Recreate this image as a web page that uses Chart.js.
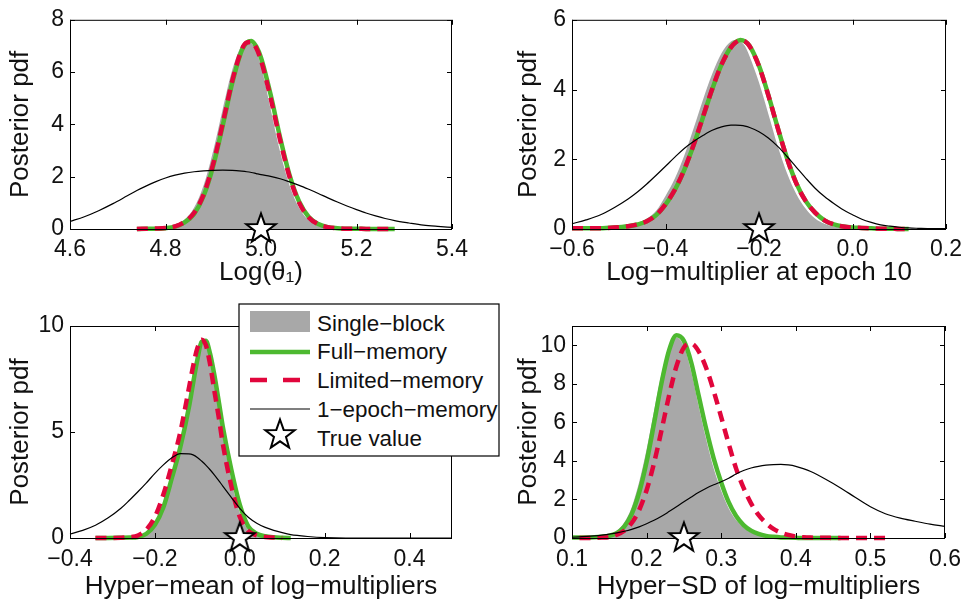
<!DOCTYPE html>
<html>
<head>
<meta charset="utf-8">
<title>Posterior pdf comparison</title>
<script src="https://cdn.jsdelivr.net/npm/chart.js@4.4.1/dist/chart.umd.min.js"></script>
<style>
  body { margin: 0; background: #fff; }
  #fig { position: relative; width: 969px; height: 602px; overflow: hidden; }
  #fig canvas { position: absolute; }
  #legend { position: absolute; left: 238px; top: 303px; }
</style>
</head>
<body>
<div id="fig">
  <canvas id="panelA" width="484" height="300" style="left:0;top:0;width:484px;height:300px"></canvas>
  <canvas id="panelB" width="485" height="300" style="left:484px;top:0;width:485px;height:300px"></canvas>
  <canvas id="panelC" width="484" height="302" style="left:0;top:300px;width:484px;height:302px"></canvas>
  <canvas id="panelD" width="485" height="302" style="left:484px;top:300px;width:485px;height:302px"></canvas>
  <svg id="legend" width="262" height="155" xmlns="http://www.w3.org/2000/svg">
    <rect x="1" y="1" width="260" height="152" fill="#fff" stroke="#000" stroke-width="1.2"/>
    <rect x="12" y="8" width="60" height="21" fill="#a8a8a8"/>
    <line x1="12" y1="49" x2="72" y2="49" stroke="#4db930" stroke-width="4.5"/>
    <line x1="12" y1="77" x2="72" y2="77" stroke="#e1063c" stroke-width="4.5" stroke-dasharray="17 16"/>
    <line x1="12" y1="106" x2="72" y2="106" stroke="#000" stroke-width="1.2"/>
    <polygon id="legendStar" fill="#fff" stroke="#000" stroke-width="2"/>
    <g id="legendText" font-family="'Liberation Sans', Arial, Helvetica, sans-serif" font-size="22.4" fill="#111"></g>
  </svg>
</div>
<script>
// series names (legend order)
const seriesNames = ['Single\u2212block', 'Full\u2212memory', 'Limited\u2212memory', '1\u2212epoch\u2212memory', 'True value'];

// ---- top-left: Log(theta_1) ----
const xA = [4.60, 4.63, 4.66, 4.69, 4.72, 4.74, 4.76, 4.78, 4.80, 4.82, 4.84, 4.86, 4.88, 4.90, 4.92, 4.94, 4.96, 4.97, 4.98, 4.99,
            5.00, 5.02, 5.04, 5.06, 5.08, 5.10, 5.12, 5.14, 5.16, 5.18, 5.20, 5.22, 5.24, 5.26, 5.28, 5.31, 5.34, 5.37, 5.40];
const singleA = [null, null, null, null, null, null, 0.00, 0.02, 0.05, 0.14, 0.36, 0.82, 1.68, 3.00, 4.60, 6.10, 7.05, 7.20, 7.10, 6.80,
                 6.25, 4.60, 2.95, 1.65, 0.80, 0.33, 0.13, 0.05, 0.02, 0.00, null, null, null, null, null, null, null, null, null];
const fullA = [null, null, null, null, null, 0.00, 0.01, 0.01, 0.03, 0.09, 0.25, 0.58, 1.27, 2.42, 3.97, 5.60, 6.84, 7.13, 7.19, 6.98,
               6.55, 5.15, 3.50, 2.05, 1.04, 0.46, 0.19, 0.07, 0.03, 0.01, 0.01, 0.00, 0.00, 0.00, 0.00, null, null, null, null];
const limitedA = [null, null, null, null, null, 0.00, 0.01, 0.02, 0.04, 0.10, 0.27, 0.62, 1.33, 2.50, 4.05, 5.68, 6.88, 7.13, 7.15, 6.92,
                  6.45, 5.02, 3.40, 1.98, 1.00, 0.44, 0.18, 0.07, 0.03, 0.01, 0.01, 0.00, 0.00, 0.00, 0.00, null, null, null, null];
const oneEpochA = [0.29, 0.47, 0.70, 0.97, 1.27, 1.47, 1.65, 1.81, 1.95, 2.06, 2.14, 2.19, 2.22, 2.24, 2.25, 2.24, 2.21, 2.19, 2.16, 2.12,
                   2.08, 2.01, 1.92, 1.80, 1.67, 1.52, 1.36, 1.19, 1.03, 0.88, 0.74, 0.61, 0.50, 0.40, 0.32, 0.23, 0.15, 0.10, 0.06];
const trueA = [5.0];
const xTicksA = [4.6, 4.8, 5.0, 5.2, 5.4];
const yTicksA = [0, 2, 4, 6, 8];

// ---- top-right: log-multiplier at epoch 10 ----
const xB = [-0.60, -0.57, -0.54, -0.51, -0.48, -0.46, -0.44, -0.42, -0.40, -0.38, -0.36, -0.34, -0.32, -0.30, -0.28, -0.26, -0.25, -0.24, -0.23, -0.22,
            -0.20, -0.18, -0.16, -0.14, -0.12, -0.10, -0.08, -0.06, -0.04, -0.02, 0.00, 0.02, 0.04, 0.06, 0.08, 0.10, 0.12, 0.14, 0.17, 0.20];
const singleB = [null, null, 0.02, 0.05, 0.10, 0.17, 0.30, 0.52, 0.95, 1.45, 2.10, 2.88, 3.70, 4.45, 5.05, 5.38, 5.42, 5.38, 5.25, 4.95,
                 4.20, 3.30, 2.38, 1.60, 1.00, 0.58, 0.30, 0.15, 0.07, 0.03, 0.00, null, null, null, null, null, null, null, null, null];
const fullB = [0.02, 0.02, 0.02, 0.04, 0.08, 0.13, 0.22, 0.40, 0.70, 1.12, 1.69, 2.40, 3.20, 4.01, 4.72, 5.22, 5.36, 5.42, 5.38, 5.25,
               4.68, 3.84, 2.91, 2.03, 1.31, 0.80, 0.47, 0.25, 0.13, 0.07, 0.04, 0.03, 0.02, 0.01, 0.01, 0.00, 0.00, null, null, null];
const limitedB = [0.02, 0.02, 0.02, 0.04, 0.08, 0.13, 0.22, 0.40, 0.71, 1.13, 1.70, 2.41, 3.21, 4.02, 4.72, 5.21, 5.35, 5.41, 5.38, 5.24,
                  4.67, 3.83, 2.90, 2.02, 1.30, 0.80, 0.47, 0.25, 0.13, 0.07, 0.04, 0.03, 0.02, 0.01, 0.01, 0.00, 0.00, null, null, null];
const oneEpochB = [0.15, 0.26, 0.40, 0.61, 0.86, 1.06, 1.29, 1.54, 1.80, 2.06, 2.31, 2.51, 2.68, 2.83, 2.93, 2.98, 2.98, 2.97, 2.95, 2.91,
                   2.79, 2.61, 2.37, 2.08, 1.77, 1.46, 1.17, 0.93, 0.73, 0.55, 0.41, 0.28, 0.19, 0.12, 0.08, 0.05, 0.03, 0.02, 0.01, 0.01];
const trueB = [-0.2];
const xTicksB = [-0.6, -0.4, -0.2, 0.0, 0.2];
const yTicksB = [0, 2, 4, 6];

// ---- bottom-left: hyper-mean of log-multipliers ----
const xC = [-0.40, -0.37, -0.34, -0.31, -0.28, -0.26, -0.24, -0.22, -0.20, -0.18, -0.16, -0.14, -0.12, -0.11, -0.10, -0.09, -0.08, -0.07, -0.06,
            -0.05, -0.04, -0.02, 0.00, 0.02, 0.04, 0.06, 0.08, 0.10, 0.12, 0.14, 0.16, 0.20, 0.25, 0.30, 0.35, 0.40, 0.45, 0.50];
const singleC = [null, null, null, 0.00, 0.01, 0.02, 0.06, 0.22, 0.66, 1.50, 2.90, 4.40, 6.25, 7.35, 8.35, 9.15, 9.20, 8.65, 7.50,
                 6.20, 4.85, 2.75, 1.20, 0.38, 0.12, 0.04, 0.01, 0.00, null, null, null, null, null, null, null, null, null, null];
const fullC = [null, null, 0.00, 0.00, 0.01, 0.02, 0.05, 0.20, 0.62, 1.45, 2.83, 4.29, 6.15, 7.30, 8.40, 9.25, 9.30, 8.70, 7.70,
               6.50, 5.25, 3.23, 1.57, 0.55, 0.20, 0.08, 0.03, 0.01, 0.00, null, null, null, null, null, null, null, null, null];
const limitedC = [null, null, 0.00, 0.00, 0.01, 0.04, 0.12, 0.40, 1.00, 2.05, 3.45, 5.00, 7.05, 8.10, 8.95, 9.35, 9.10, 8.20, 6.95,
                  5.75, 4.45, 2.45, 1.00, 0.33, 0.12, 0.05, 0.02, 0.00, null, null, null, null, null, null, null, null, null, null];
const oneEpochC = [0.19, 0.36, 0.60, 0.95, 1.40, 1.78, 2.18, 2.60, 3.05, 3.45, 3.78, 3.98, 3.97, 3.92, 3.80, 3.63, 3.44, 3.22, 2.98,
                   2.72, 2.45, 1.92, 1.40, 0.98, 0.70, 0.50, 0.36, 0.25, 0.16, 0.11, 0.07, 0.02, 0.00, 0.00, 0.00, 0.00, 0.00, 0.00];
const trueC = [0.0];
const xTicksC = [-0.4, -0.2, 0.0, 0.2, 0.4];
const yTicksC = [0, 5, 10];

// ---- bottom-right: hyper-SD of log-multipliers ----
const xD = [0.10, 0.11, 0.12, 0.13, 0.14, 0.15, 0.16, 0.17, 0.18, 0.19, 0.20, 0.21, 0.22, 0.23, 0.24, 0.25, 0.26, 0.27, 0.28, 0.29, 0.30,
            0.31, 0.32, 0.33, 0.34, 0.35, 0.36, 0.37, 0.38, 0.39, 0.40, 0.41, 0.42, 0.44, 0.46, 0.48, 0.50, 0.52, 0.54, 0.56, 0.58, 0.60];
const singleD = [null, 0.00, 0.03, 0.05, 0.11, 0.18, 0.38, 0.80, 1.60, 2.90, 4.60, 6.60, 8.50, 9.95, 10.40, 9.95, 8.60, 6.80, 5.10, 3.60, 2.45,
                 1.55, 0.93, 0.53, 0.29, 0.15, 0.08, 0.04, 0.02, 0.01, 0.00, null, null, null, null, null, null, null, null, null, null, null];
const fullD = [0.03, 0.03, 0.03, 0.04, 0.07, 0.12, 0.25, 0.59, 1.24, 2.35, 3.95, 5.96, 8.05, 9.72, 10.52, 10.23, 9.08, 7.35, 5.64, 4.12, 2.88,
               1.86, 1.14, 0.67, 0.38, 0.21, 0.11, 0.06, 0.03, 0.02, 0.01, 0.00, 0.00, 0.00, 0.00, null, null, null, null, null, null, null];
const limitedD = [null, 0.00, 0.00, 0.01, 0.02, 0.05, 0.17, 0.38, 0.78, 1.45, 2.48, 3.89, 5.59, 7.37, 8.91, 9.89, 10.08, 9.67, 8.81, 7.62, 6.27,
                  4.89, 3.60, 2.60, 1.80, 1.20, 0.78, 0.47, 0.28, 0.16, 0.08, 0.04, 0.02, 0.01, 0.00, 0.00, 0.00, 0.00, null, null, null, null];
const oneEpochD = [0.04, 0.06, 0.08, 0.11, 0.15, 0.20, 0.27, 0.35, 0.45, 0.58, 0.74, 0.92, 1.13, 1.37, 1.62, 1.88, 2.13, 2.37, 2.58, 2.76, 2.92,
                   3.10, 3.32, 3.50, 3.63, 3.72, 3.78, 3.81, 3.82, 3.79, 3.72, 3.60, 3.45, 3.05, 2.60, 2.10, 1.62, 1.26, 1.03, 0.87, 0.72, 0.60];
const trueD = [0.25];
const xTicksD = [0.1, 0.2, 0.3, 0.4, 0.5, 0.6];
const yTicksD = [0, 2, 4, 6, 8, 10];

const GREEN = '#4db930';
const RED = '#e1063c';
const GRAY = '#a8a8a8';
const INK = '#111';

Chart.defaults.font.family = "'Liberation Sans', Arial, Helvetica, sans-serif";
Chart.defaults.color = INK;

function starPath(cx, cy, R, r) {
  const out = [];
  for (let k = 0; k < 10; k++) {
    const rad = k % 2 ? r : R;
    const a = -Math.PI / 2 + k * Math.PI / 5;
    out.push([cx + rad * Math.cos(a), cy + rad * Math.sin(a)]);
  }
  return out;
}

// pentagram marker used for the true value
const starMarker = (() => {
  const c = document.createElement('canvas');
  c.width = 40; c.height = 40;
  const g = c.getContext('2d');
  g.beginPath();
  starPath(20, 20, 15.5, 6.3).forEach(([x, y], i) => i ? g.lineTo(x, y) : g.moveTo(x, y));
  g.closePath();
  g.fillStyle = '#fff';
  g.fill();
  g.lineWidth = 2;
  g.strokeStyle = '#000';
  g.stroke();
  return c;
})();

// legend
document.getElementById('legendStar').setAttribute('points',
  starPath(42, 132, 15.5, 6.3).map(p => p[0].toFixed(2) + ',' + p[1].toFixed(2)).join(' '));
const legendText = document.getElementById('legendText');
seriesNames.forEach((name, i) => {
  const t = document.createElementNS('http://www.w3.org/2000/svg', 'text');
  t.setAttribute('x', 79);
  t.setAttribute('y', (27.5 + i * 28.75).toFixed(1));
  t.textContent = name;
  legendText.appendChild(t);
});

// box around the axes plus inward ticks on all four sides
const frame = {
  id: 'frame',
  beforeDatasetDraw(chart, args) {
    if (args.index !== 0) return;
    const {ctx, chartArea: a, scales: {x, y}} = chart;
    ctx.save();
    ctx.strokeStyle = '#000';
    ctx.lineWidth = 1;
    ctx.beginPath();
    x.ticks.forEach(t => {
      const px = Math.round(x.getPixelForValue(t.value)) + 0.5;
      ctx.moveTo(px, a.bottom); ctx.lineTo(px, a.bottom - 5);
      ctx.moveTo(px, a.top); ctx.lineTo(px, a.top + 5);
    });
    y.ticks.forEach(t => {
      const py = Math.round(y.getPixelForValue(t.value)) + 0.5;
      ctx.moveTo(a.left, py); ctx.lineTo(a.left + 5, py);
      ctx.moveTo(a.right, py); ctx.lineTo(a.right - 5, py);
    });
    ctx.stroke();
    ctx.strokeRect(a.left + 0.5, a.top + 0.5, a.right - a.left - 1, a.bottom - a.top);
    ctx.restore();
  }
};

function pts(xs, ys) {
  return xs.map((x, i) => ({x: x, y: ys[i]})).filter(p => p.y !== null);
}

function fmtX(v) {
  return (v < 0 ? '\u2212' : '') + Math.abs(v).toFixed(1);
}

function makePanel(id, p) {
  const line = {pointRadius: 0, cubicInterpolationMode: 'monotone', fill: false, clip: 4, borderJoinStyle: 'round'};
  new Chart(document.getElementById(id), {
    type: 'line',
    data: {
      datasets: [
        {label: seriesNames[4], data: p.truth.map(v => ({x: v, y: 0})), showLine: false,
         pointStyle: starMarker, pointRadius: 16, clip: false, order: 0},
        Object.assign({label: seriesNames[3], data: pts(p.x, p.oneEpoch), borderColor: '#000', borderWidth: 1.2, order: 1}, line),
        Object.assign({label: seriesNames[2], data: pts(p.x, p.limited), borderColor: RED, borderWidth: 4.5,
                       borderDash: [11, 7], order: 2}, line),
        Object.assign({label: seriesNames[1], data: pts(p.x, p.full), borderColor: GREEN, borderWidth: 4.5, order: 3}, line),
        Object.assign({}, line, {label: seriesNames[0], data: pts(p.x, p.single), borderColor: 'rgba(0,0,0,0)',
                       borderWidth: 0, backgroundColor: GRAY, fill: 'origin', order: 4})
      ]
    },
    options: {
      responsive: false,
      animation: false,
      events: [],
      layout: {padding: {left: 0, right: p.padR, top: p.padT, bottom: 0}},
      plugins: {legend: {display: false}, tooltip: {enabled: false}},
      scales: {
        x: {
          type: 'linear', min: p.xMin, max: p.xMax,
          afterBuildTicks: s => { s.ticks = p.xTicks.map(v => ({value: v})); },
          afterFit: s => { s.height = p.bottomH; },
          grid: {display: false, drawTicks: false},
          border: {display: false},
          ticks: {padding: p.xTickPad, font: {size: 23}, color: INK, autoSkip: false, maxRotation: 0, callback: v => fmtX(v)},
          title: {display: true, text: p.xTitle, color: INK, font: {size: 26, lineHeight: 1},
                  padding: {top: 0, bottom: p.xTitlePad}}
        },
        y: {
          min: 0, max: p.yMax,
          afterBuildTicks: s => { s.ticks = p.yTicks.map(v => ({value: v})); },
          afterFit: s => { s.width = p.leftW; },
          grid: {display: false, drawTicks: false},
          border: {display: false},
          ticks: {padding: 6, font: {size: 23}, color: INK, callback: v => String(v)},
          title: {display: true, text: 'Posterior pdf', color: INK, font: {size: 26, lineHeight: 1},
                  padding: {top: p.yTitlePad, bottom: 0}}
        }
      }
    },
    plugins: [frame]
  });
}

makePanel('panelA', {x: xA, single: singleA, full: fullA, limited: limitedA, oneEpoch: oneEpochA, truth: trueA,
  xMin: 4.6, xMax: 5.4, xTicks: xTicksA, yMax: 8, yTicks: yTicksA, xTitle: 'Log(\u03B8\u2081)',
  leftW: 70, padR: 32, padT: 16, bottomH: 71, xTickPad: 7, xTitlePad: 14, yTitlePad: 8});
makePanel('panelB', {x: xB, single: singleB, full: fullB, limited: limitedB, oneEpoch: oneEpochB, truth: trueB,
  xMin: -0.6, xMax: 0.2, xTicks: xTicksB, yMax: 6, yTicks: yTicksB, xTitle: 'Log\u2212multiplier at epoch 10',
  leftW: 88, padR: 16, padT: 16, bottomH: 71, xTickPad: 7, xTitlePad: 14, yTitlePad: 32});
makePanel('panelC', {x: xC, single: singleC, full: fullC, limited: limitedC, oneEpoch: oneEpochC, truth: trueC,
  xMin: -0.4, xMax: 0.5, xTicks: xTicksC, yMax: 10, yTicks: yTicksC, xTitle: 'Hyper\u2212mean of log\u2212multipliers',
  leftW: 70, padR: 32, padT: 26, bottomH: 64, xTickPad: 8, xTitlePad: 2, yTitlePad: 8});
makePanel('panelD', {x: xD, single: singleD, full: fullD, limited: limitedD, oneEpoch: oneEpochD, truth: trueD,
  xMin: 0.1, xMax: 0.6, xTicks: xTicksD, yMax: 11, yTicks: yTicksD, xTitle: 'Hyper\u2212SD of log\u2212multipliers',
  leftW: 88, padR: 16, padT: 26, bottomH: 64, xTickPad: 8, xTitlePad: 2, yTitlePad: 32});
</script>
</body>
</html>
